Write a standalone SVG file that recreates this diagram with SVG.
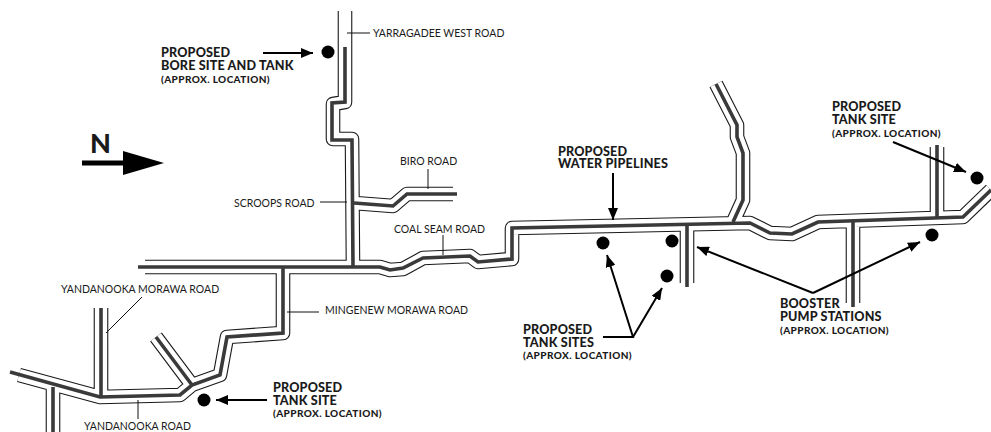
<svg xmlns="http://www.w3.org/2000/svg" xmlns:xlink="http://www.w3.org/1999/xlink" width="991" height="432" viewBox="0 0 991 432">
<style>
.edge{fill:none;stroke:#1a1a1a;stroke-width:14.6;stroke-linejoin:round}
.clear{fill:none;stroke:#fff;stroke-width:12.4;stroke-linejoin:round}
.pipe{fill:none;stroke:#3a3a3a;stroke-width:3.6;stroke-linejoin:miter}
.ln{fill:none;stroke:#111;stroke-width:1}
.ar{fill:none;stroke:#000;stroke-width:2}
.site{fill:#000}
text{font-family:Lato,"Open Sans",sans-serif;fill:#1a1a1a}
.t{font-size:10.5px}
.b{font-size:12.6px;font-weight:900;letter-spacing:.15px}
.s{font-size:10px;font-weight:900;letter-spacing:.4px}
</style>
<defs>
<path id="roads" d="M145 267H380L390 270L403 269L423 258L470 256L478 262L512 259V228L750 223L770 233L792 234L818 222L963 217L991 190M345 11V102L333 104V139L352 139L353 267M354 203L393 206L407 194H453M283 267V333L227 337L220 375L192 385L180 395L100 397L19 375M156 337L192 385M101 308V397M53 387V432M716 84L737 125V137L743 153V200L733 222M687 225V283M853 222V303M937 147V217"/>
<marker id="h" viewBox="0 0 12 10" refX="12" refY="5" markerWidth="12" markerHeight="10" markerUnits="userSpaceOnUse" orient="auto"><path d="M0 0L12 5L0 10z" fill="#000"/></marker>
</defs>
<rect width="991" height="432" fill="#fff"/>
<g id="connectors">
<use xlink:href="#roads" href="#roads" class="edge"/>
<use xlink:href="#roads" href="#roads" class="clear"/>
<path class="pipe" d="M138 267H380L390 270L403 268L423 258L470 256L478 262L512 259V228L750 223L770 233L792 234L818 222L963 217L991 190"/>
<path class="pipe" d="M345 47V102L332 103V140H352L353 267"/>
<path class="pipe" d="M354 203L393 206L407 194H457"/>
<path class="pipe" d="M283 267V333L227 337L220 375L192 385L180 395L100 397L10 372"/>
<path class="pipe" d="M156 337L192 385M101 308V397M53 387V432"/>
<path class="pipe" d="M716 84L737 125V137L743 153V200L733 222M687 225V287M853 222V307M937 145V217"/>
<path class="ln" d="M347 33H370M428 169V189M320 202H347M443 235V255M287 312H319M142 297L106 333M138 400V419"/>
<path class="ar" marker-end="url(#h)" d="M263 53H313"/>
<path class="ar" marker-end="url(#h)" d="M267 400H216"/>
<path class="ar" marker-end="url(#h)" d="M613 173V220"/>
<path class="ar" marker-end="url(#h)" d="M603 337H633L607 255"/>
<path class="ar" marker-end="url(#h)" d="M633 337L662 288"/>
<path class="ar" marker-end="url(#h)" d="M813 293L697 247"/>
<path class="ar" marker-end="url(#h)" d="M813 293L920 242"/>
<path class="ar" marker-end="url(#h)" d="M893 142L966 172"/>
</g>
<g id="north">
<path d="M82 163H123" stroke="#000" stroke-width="5"/>
<path d="M123 151L164 163L123 175z" fill="#000"/>
<text x="90" y="153" style="font-size:27px;font-weight:900">N</text>
</g>
<g id="site-bore"><circle class="site" cx="328" cy="52" r="6.5"/>
<text class="b" x="161" y="57">PROPOSED</text><text class="b" x="161" y="70">BORE SITE AND TANK</text><text class="s" x="161" y="83">(APPROX. LOCATION)</text></g>
<g id="site-south"><circle class="site" cx="204" cy="400" r="6.5"/>
<text class="b" x="273" y="392">PROPOSED</text><text class="b" x="273" y="405">TANK SITE</text><text class="s" x="273" y="417">(APPROX. LOCATION)</text></g>
<g id="sites-middle"><circle class="site" cx="603" cy="243" r="6.5"/><circle class="site" cx="667" cy="276" r="6.5"/>
<text class="b" x="523" y="334">PROPOSED</text><text class="b" x="523" y="347">TANK SITES</text><text class="s" x="523" y="359">(APPROX. LOCATION)</text></g>
<g id="booster"><circle class="site" cx="672" cy="241" r="6.5"/><circle class="site" cx="932" cy="235" r="6.5"/>
<text class="b" x="780" y="308">BOOSTER</text><text class="b" x="780" y="321">PUMP STATIONS</text><text class="s" x="780" y="334">(APPROX. LOCATION)</text></g>
<g id="site-north"><circle class="site" cx="977" cy="178" r="6.5"/>
<text class="b" x="832" y="111">PROPOSED</text><text class="b" x="832" y="124">TANK SITE</text><text class="s" x="832" y="137">(APPROX. LOCATION)</text></g>
<g id="pipelines-label"><text class="b" x="558" y="156">PROPOSED</text><text class="b" x="558" y="168">WATER PIPELINES</text></g>
<g id="road-labels">
<text class="t" x="373" y="37">YARRAGADEE WEST ROAD</text>
<text class="t" x="400" y="165">BIRO ROAD</text>
<text class="t" x="234" y="207">SCROOPS ROAD</text>
<text class="t" x="394" y="233">COAL SEAM ROAD</text>
<text class="t" x="61" y="293">YANDANOOKA MORAWA ROAD</text>
<text class="t" x="325" y="314">MINGENEW MORAWA ROAD</text>
<text class="t" x="84" y="430">YANDANOOKA ROAD</text>
</g>
</svg>
